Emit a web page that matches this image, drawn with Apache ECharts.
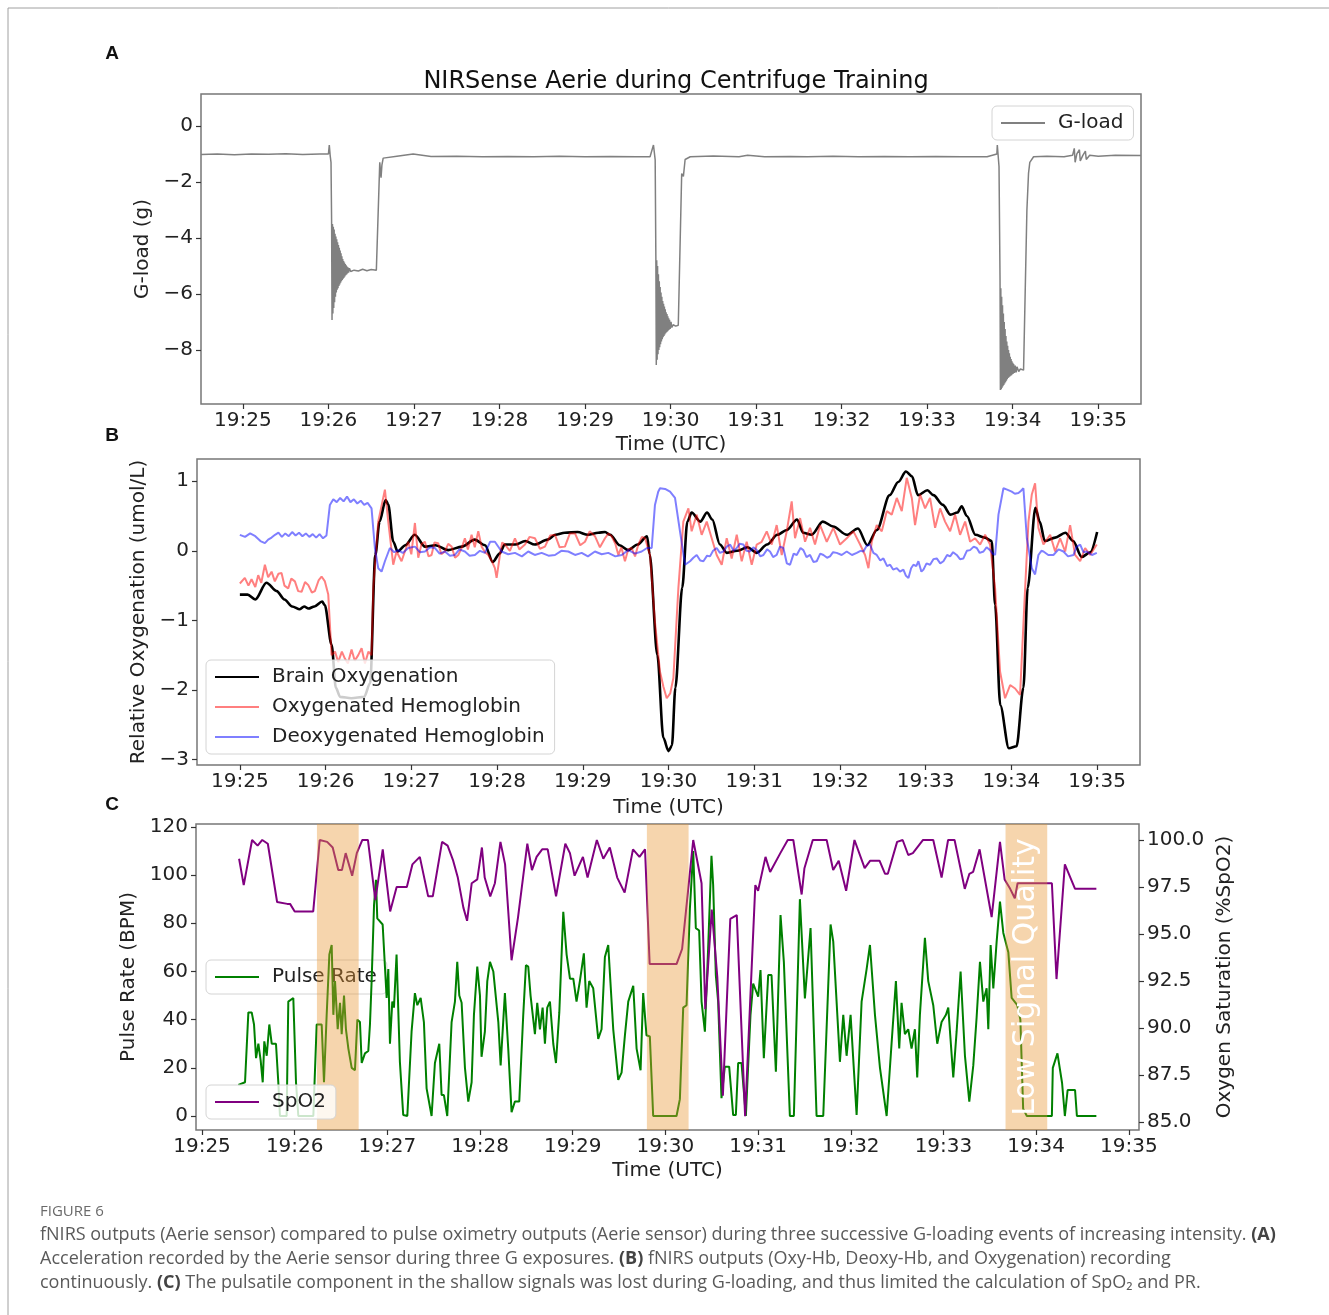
<!DOCTYPE html>
<html>
<head>
<meta charset="utf-8">
<title>NIRSense Aerie during Centrifuge Training</title>
<script src="https://cdn.jsdelivr.net/npm/echarts@6/dist/echarts.min.js"></script>
<style>
html, body { margin: 0; padding: 0; background: #fff; }
#chart { width: 1329px; height: 1315px; }
</style>
</head>
<body>
<div id="chart"></div>
<script>
// time is in minutes after 19:25 UTC
var timeTicks = [0, 1, 2, 3, 4, 5, 6, 7, 8, 9, 10];
var gTicks = [-8, -6, -4, -2, 0];
var oxyTicks = [-3, -2, -1, 0, 1];
var pulseTicks = [0, 20, 40, 60, 80, 100, 120];
var spo2Ticks = [85, 87.5, 90, 92.5, 95, 97.5, 100];

// panel A: G-load (g)
var gLoad = [
  [-0.49,-1.02],[-0.3,-1.0],[-0.1,-1.03],[0.1,-1.0],[0.3,-1.01],[0.5,-0.99],[0.7,-1.02],[0.9,-1.0],[1.0,-1.0],[1.01,-0.68],[1.02,-1.05],[1.03,-1.3],
  [1.037,-3.4],[1.042,-6.93],[1.047,-3.5],[1.052,-6.7],[1.057,-3.6],[1.062,-6.5],[1.067,-3.7],[1.072,-6.3],[1.077,-3.85],[1.082,-6.1],[1.087,-3.95],[1.092,-5.95],
  [1.097,-4.05],[1.102,-5.85],[1.107,-4.15],[1.112,-5.8],[1.117,-4.25],[1.122,-5.72],[1.127,-4.35],[1.132,-5.66],[1.137,-4.45],[1.142,-5.6],[1.147,-4.55],[1.152,-5.55],
  [1.157,-4.65],[1.162,-5.5],[1.167,-4.75],[1.172,-5.46],[1.177,-4.82],[1.182,-5.42],[1.187,-4.88],[1.192,-5.38],[1.197,-4.93],[1.202,-5.33],[1.207,-4.98],[1.212,-5.3],
  [1.217,-5.02],[1.222,-5.27],[1.227,-5.05],[1.235,-5.24],[1.245,-5.08],[1.26,-5.2],[1.3,-5.15],[1.35,-5.18],[1.4,-5.12],[1.45,-5.17],[1.5,-5.13],[1.56,-5.15],
  [1.6,-1.3],[1.615,-1.85],[1.625,-1.4],[1.64,-1.15],[1.66,-1.1],[1.8,-1.08],[1.99,-1.0],[2.0,-1.07],[2.2,-1.09],[2.5,-1.08],[2.8,-1.1],[3.1,-1.09],[3.4,-1.1],
  [3.7,-1.08],[4.0,-1.1],[4.3,-1.09],[4.6,-1.1],[4.76,-1.1],[4.8,-0.68],[4.82,-1.21],[4.828,-4.67],
  [4.833,-8.54],[4.838,-4.8],[4.843,-8.35],[4.848,-5.0],[4.853,-8.15],[4.858,-5.3],[4.863,-8.0],[4.868,-5.55],[4.873,-7.9],[4.878,-5.75],[4.883,-7.8],[4.888,-5.95],
  [4.893,-7.7],[4.898,-6.1],[4.903,-7.62],[4.908,-6.25],[4.913,-7.55],[4.918,-6.35],[4.923,-7.5],[4.928,-6.45],[4.933,-7.45],[4.938,-6.55],[4.943,-7.4],[4.948,-6.65],
  [4.953,-7.37],[4.958,-6.72],[4.963,-7.34],[4.968,-6.8],[4.973,-7.3],[4.978,-6.87],[4.983,-7.28],[4.988,-6.92],[4.995,-7.25],[5.005,-7.0],[5.015,-7.2],[5.03,-7.1],
  [5.06,-7.15],[5.09,-7.12],[5.13,-1.7],[5.15,-1.8],[5.17,-1.2],[5.23,-1.1],[5.5,-1.07],[5.8,-1.1],[5.9,-1.05],[6.1,-1.1],[6.4,-1.09],[6.6,-1.1],[6.9,-1.08],
  [7.2,-1.1],[7.5,-1.09],[7.8,-1.1],[8.1,-1.09],[8.4,-1.1],[8.7,-1.1],[8.815,-1.0],[8.82,-0.68],[8.84,-1.45],[8.852,-5.5],
  [8.856,-9.43],[8.861,-5.8],[8.866,-9.4],[8.871,-6.1],[8.876,-9.35],[8.881,-6.4],[8.886,-9.3],[8.891,-6.7],[8.896,-9.25],[8.901,-7.0],[8.906,-9.2],[8.911,-7.25],
  [8.916,-9.15],[8.921,-7.5],[8.926,-9.1],[8.931,-7.7],[8.936,-9.05],[8.941,-7.85],[8.946,-9.0],[8.951,-8.0],[8.956,-8.97],[8.961,-8.12],[8.966,-8.95],[8.971,-8.24],
  [8.976,-8.92],[8.981,-8.32],[8.986,-8.9],[8.991,-8.4],[8.996,-8.87],[9.001,-8.46],[9.006,-8.85],[9.011,-8.5],[9.02,-8.82],[9.03,-8.56],[9.04,-8.8],[9.05,-8.6],
  [9.07,-8.77],[9.09,-8.68],[9.127,-8.72],[9.166,-3.0],[9.185,-1.69],[9.2,-1.3],[9.244,-1.1],[9.4,-1.08],[9.6,-1.1],[9.7,-1.05],[9.72,-0.8],[9.73,-1.3],[9.75,-1.0],
  [9.78,-0.85],[9.79,-1.25],[9.82,-1.05],[9.85,-0.9],[9.86,-1.2],[9.9,-1.05],[10.0,-1.08],[10.2,-1.05],[10.5,-1.06]
];

// panel B: relative oxygenation (umol/L)
var brainOxy = [
  [0.0,-0.63],[0.09,-0.63],[0.18,-0.7],[0.31,-0.46],[0.43,-0.58],[0.52,-0.7],[0.61,-0.8],[0.7,-0.84],[0.75,-0.8],[0.8,-0.83],[0.87,-0.8],[0.96,-0.73],[0.99,-0.78],
  [1.07,-1.35],[1.12,-1.97],[1.17,-2.1],[1.3,-2.12],[1.45,-2.1],[1.52,-1.9],[1.58,-0.06],[1.63,0.42],[1.7,0.73],[1.73,0.67],[1.79,0.13],[1.84,-0.01],[1.93,0.08],
  [2.04,0.23],[2.16,0.06],[2.28,0.08],[2.43,0.01],[2.59,0.06],[2.74,0.16],[2.86,0.08],[2.95,-0.16],[3.03,-0.04],[3.09,0.09],[3.21,0.09],[3.33,0.14],[3.44,0.09],
  [3.59,0.16],[3.68,0.23],[3.79,0.26],[3.94,0.27],[4.06,0.23],[4.18,0.26],[4.26,0.27],[4.32,0.23],[4.43,0.08],[4.53,0.01],[4.64,0.09],[4.75,0.21],[4.78,-0.05],
  [4.87,-1.5],[4.94,-2.69],[5.0,-2.88],[5.04,-2.8],[5.08,-1.97],[5.16,-0.53],[5.22,0.42],[5.27,0.55],[5.37,0.42],[5.45,0.55],[5.51,0.45],[5.6,0.09],[5.68,-0.03],
  [5.8,0.0],[5.92,0.05],[6.03,-0.03],[6.15,0.09],[6.27,0.23],[6.38,0.3],[6.5,0.45],[6.57,0.26],[6.67,0.23],[6.8,0.42],[6.92,0.35],[7.08,0.23],[7.21,0.32],
  [7.32,0.08],[7.43,0.3],[7.58,0.8],[7.68,0.99],[7.77,1.14],[7.84,1.07],[7.91,0.8],[8.02,0.87],[8.09,0.8],[8.2,0.66],[8.29,0.52],[8.37,0.55],[8.42,0.64],
  [8.48,0.5],[8.58,0.23],[8.69,0.19],[8.77,0.14],[8.81,-0.78],[8.87,-2.22],[8.97,-2.84],[9.06,-2.81],[9.14,-1.97],[9.19,-0.53],[9.28,0.62],[9.33,0.42],[9.39,0.14],
  [9.51,0.19],[9.63,0.26],[9.72,0.14],[9.82,-0.09],[9.92,-0.02],[10.0,0.27]
];
var oxyHb = [
  [0.0,-0.47],[0.058,-0.39],[0.1,-0.5],[0.136,-0.41],[0.18,-0.52],[0.214,-0.35],[0.25,-0.46],[0.292,-0.2],[0.33,-0.38],[0.37,-0.3],[0.408,-0.44],[0.45,-0.33],
  [0.486,-0.32],[0.52,-0.5],[0.564,-0.54],[0.6,-0.4],[0.642,-0.44],[0.68,-0.58],[0.72,-0.59],[0.76,-0.45],[0.797,-0.49],[0.84,-0.6],[0.875,-0.58],[0.92,-0.42],
  [0.953,-0.37],[0.992,-0.44],[1.031,-0.63],[1.07,-1.5],[1.11,-1.45],[1.147,-1.6],[1.19,-1.45],[1.225,-1.55],[1.26,-1.62],[1.303,-1.42],[1.34,-1.58],[1.381,-1.5],
  [1.42,-1.4],[1.459,-1.62],[1.5,-1.45],[1.536,-1.5],[1.556,-0.54],[1.614,0.42],[1.692,0.88],[1.731,0.42],[1.789,-0.2],[1.828,-0.01],[1.886,-0.15],[1.964,0.13],
  [2.0,-0.05],[2.042,0.4],[2.081,-0.1],[2.12,0.1],[2.159,0.13],[2.2,-0.08],[2.236,-0.06],[2.27,0.12],[2.314,0.11],[2.35,-0.05],[2.392,-0.01],[2.43,0.1],
  [2.47,0.06],[2.51,-0.1],[2.548,-0.06],[2.59,0.05],[2.625,0.18],[2.66,0.02],[2.703,0.23],[2.74,0.05],[2.781,0.28],[2.82,0.06],[2.86,-0.02],[2.898,-0.06],
  [2.94,-0.15],[2.975,-0.25],[2.995,-0.39],[3.034,-0.06],[3.06,0.12],[3.092,0.09],[3.15,0.0],[3.209,0.18],[3.26,0.02],[3.326,0.09],[3.38,0.2],[3.442,0.18],
  [3.5,0.03],[3.559,0.06],[3.62,0.22],[3.676,0.23],[3.73,0.05],[3.792,0.06],[3.85,0.25],[3.909,0.25],[3.97,0.08],[4.026,0.13],[4.08,0.28],[4.142,0.21],
  [4.2,0.05],[4.259,0.18],[4.3,0.25],[4.337,0.21],[4.38,0.1],[4.415,-0.06],[4.45,0.05],[4.492,-0.15],[4.53,0.02],[4.57,0.04],[4.61,-0.08],[4.648,0.09],
  [4.69,0.2],[4.726,0.18],[4.784,-0.06],[4.842,-1.02],[4.901,-1.74],[4.94,-1.95],[4.979,-2.12],[5.02,-2.05],[5.057,-1.83],[5.115,-0.54],[5.173,0.42],[5.232,0.61],
  [5.27,0.28],[5.329,0.52],[5.387,0.23],[5.446,0.42],[5.504,0.18],[5.562,-0.06],[5.621,-0.2],[5.679,0.18],[5.737,-0.11],[5.796,0.23],[5.854,-0.15],[5.912,0.13],
  [5.971,-0.2],[6.029,0.09],[6.087,0.13],[6.146,0.28],[6.204,0.09],[6.262,0.37],[6.321,-0.06],[6.379,0.28],[6.437,0.71],[6.476,0.18],[6.535,0.47],[6.593,0.13],
  [6.651,0.33],[6.709,0.09],[6.768,0.37],[6.846,0.13],[6.923,0.33],[7.001,0.09],[7.079,0.18],[7.157,0.28],[7.235,0.09],[7.293,-0.06],[7.332,-0.25],[7.371,0.13],
  [7.429,0.37],[7.488,0.28],[7.546,0.57],[7.604,0.52],[7.663,0.76],[7.721,0.57],[7.779,1.05],[7.838,0.76],[7.876,0.37],[7.935,0.81],[7.993,0.61],[8.051,0.76],
  [8.11,0.33],[8.168,0.61],[8.226,0.42],[8.285,0.28],[8.343,0.52],[8.401,0.23],[8.46,0.42],[8.518,0.13],[8.576,0.18],[8.635,0.09],[8.693,0.23],[8.751,0.09],
  [8.81,-0.54],[8.868,-1.74],[8.926,-2.12],[8.985,-1.93],[9.043,-1.98],[9.101,-2.07],[9.16,-0.54],[9.199,0.42],[9.238,0.81],[9.276,0.97],[9.315,0.33],[9.374,0.09],
  [9.452,0.23],[9.51,-0.01],[9.568,0.18],[9.627,-0.01],[9.685,0.37],[9.743,-0.06],[9.802,-0.15],[9.86,0.04],[9.918,-0.06],[9.996,0.09]
];
var deoxyHb = [
  [0.0,0.23],[0.06,0.2],[0.12,0.25],[0.18,0.21],[0.24,0.14],[0.292,0.11],[0.33,0.16],[0.37,0.19],[0.41,0.23],[0.45,0.26],[0.49,0.2],[0.53,0.25],[0.57,0.21],
  [0.61,0.27],[0.65,0.22],[0.69,0.26],[0.73,0.21],[0.77,0.25],[0.81,0.2],[0.85,0.24],[0.89,0.19],[0.93,0.24],[0.97,0.18],[1.01,0.22],[1.05,0.66],[1.09,0.74],
  [1.13,0.7],[1.17,0.76],[1.21,0.71],[1.25,0.78],[1.29,0.7],[1.33,0.74],[1.37,0.68],[1.41,0.72],[1.45,0.66],[1.49,0.69],[1.536,0.61],[1.575,0.04],[1.614,-0.25],
  [1.653,-0.3],[1.692,-0.15],[1.75,0.04],[1.8,-0.02],[1.847,0.01],[1.9,-0.03],[1.964,0.04],[2.042,0.06],[2.1,-0.02],[2.159,-0.01],[2.22,0.05],[2.276,0.04],
  [2.33,-0.04],[2.392,-0.01],[2.45,-0.07],[2.509,-0.06],[2.56,0.02],[2.625,-0.01],[2.68,-0.07],[2.742,-0.06],[2.8,0.0],[2.859,-0.03],[2.92,0.13],[2.975,0.13],
  [3.053,-0.01],[3.13,-0.05],[3.209,-0.03],[3.29,-0.08],[3.364,-0.01],[3.44,-0.06],[3.52,-0.03],[3.6,-0.07],[3.676,-0.06],[3.75,0.0],[3.831,-0.01],[3.91,-0.06],
  [3.987,-0.03],[4.06,-0.08],[4.142,-0.01],[4.22,-0.05],[4.298,-0.03],[4.38,-0.08],[4.454,-0.06],[4.531,0.01],[4.61,-0.04],[4.687,-0.01],[4.75,0.04],[4.804,0.04],
  [4.842,0.66],[4.88,0.85],[4.901,0.9],[4.96,0.89],[5.018,0.85],[5.076,0.76],[5.134,0.28],[5.193,-0.2],[5.251,-0.15],[5.29,-0.1],[5.329,-0.06],[5.37,-0.14],
  [5.407,-0.15],[5.45,-0.07],[5.484,-0.08],[5.52,0.0],[5.562,0.04],[5.6,-0.03],[5.64,-0.01],[5.68,0.06],[5.718,0.09],[5.76,0.0],[5.796,0.04],[5.83,0.1],
  [5.873,0.09],[5.91,0.0],[5.951,-0.01],[5.99,0.05],[6.029,0.01],[6.07,-0.08],[6.107,-0.06],[6.15,0.02],[6.184,-0.01],[6.22,-0.09],[6.262,-0.06],[6.3,0.06],
  [6.34,0.04],[6.38,-0.18],[6.418,-0.2],[6.46,-0.04],[6.496,-0.06],[6.54,0.04],[6.573,0.01],[6.61,-0.09],[6.651,-0.06],[6.69,-0.16],[6.729,-0.15],[6.77,-0.04],
  [6.807,-0.06],[6.85,-0.1],[6.884,-0.08],[6.92,-0.02],[6.962,-0.03],[7.02,-0.06],[7.079,-0.01],[7.14,-0.06],[7.196,-0.03],[7.24,0.0],[7.274,-0.01],[7.31,0.07],
  [7.351,0.09],[7.39,-0.03],[7.429,-0.06],[7.47,-0.14],[7.507,-0.11],[7.55,-0.22],[7.585,-0.2],[7.62,-0.27],[7.663,-0.25],[7.7,-0.3],[7.74,-0.27],[7.77,-0.36],
  [7.799,-0.39],[7.83,-0.25],[7.857,-0.2],[7.89,-0.22],[7.915,-0.15],[7.95,-0.3],[7.974,-0.27],[8.01,-0.18],[8.051,-0.2],[8.09,-0.12],[8.129,-0.11],[8.17,-0.18],
  [8.207,-0.15],[8.25,-0.06],[8.285,-0.08],[8.32,-0.02],[8.362,-0.06],[8.4,-0.12],[8.44,-0.11],[8.48,0.0],[8.518,0.01],[8.56,0.06],[8.596,0.04],[8.63,-0.03],
  [8.674,-0.01],[8.71,0.05],[8.751,0.01],[8.78,-0.04],[8.81,-0.06],[8.849,0.52],[8.907,0.9],[8.95,0.88],[9.004,0.85],[9.04,0.82],[9.082,0.83],[9.11,0.86],
  [9.14,0.9],[9.18,0.18],[9.238,-0.25],[9.276,-0.34],[9.315,-0.06],[9.35,0.0],[9.374,-0.01],[9.43,-0.06],[9.49,-0.06],[9.55,0.02],[9.607,-0.01],[9.66,-0.08],
  [9.724,-0.06],[9.76,0.06],[9.802,0.09],[9.84,-0.02],[9.879,-0.01],[9.94,-0.06],[9.996,-0.03]
];

// panel C: pulse rate (BPM) and SpO2 (%)
var pulseRate = [
  [0.392,12.9],[0.464,14],[0.5,43],[0.536,43],[0.561,38],[0.583,24],[0.608,30],[0.633,23],[0.655,14],[0.672,31],[0.698,25],[0.726,38],[0.752,30],[0.798,30],
  [0.823,14],[0.841,0],[0.913,0],[0.931,47.5],[0.985,49],[1.014,14],[1.039,0],[1.201,0],[1.237,38],[1.291,38],[1.316,14],[1.345,42],[1.374,67],[1.399,71],
  [1.417,42],[1.435,56],[1.464,36],[1.489,47],[1.507,34],[1.532,50],[1.553,36],[1.579,28],[1.615,20],[1.65,19],[1.676,40],[1.704,39],[1.723,22],[1.758,26],
  [1.794,27],[1.812,38],[1.83,56],[1.856,87.5],[1.877,98],[1.891,82],[1.949,79.5],[1.992,49],[2.01,61],[2.028,30],[2.053,47.5],[2.071,45],[2.099,67],[2.135,22.5],
  [2.171,0.4],[2.215,0],[2.261,35],[2.297,51],[2.323,46],[2.359,49],[2.394,39],[2.423,11.5],[2.477,0],[2.513,22],[2.56,30],[2.585,8.7],[2.61,8.7],[2.646,0],
  [2.693,39],[2.729,47.5],[2.754,64],[2.776,50],[2.801,47],[2.837,20],[2.873,6],[2.909,14],[2.934,42],[2.97,62],[2.999,50],[3.016,24.6],[3.052,35],[3.078,56],
  [3.107,64],[3.143,60],[3.197,39],[3.222,21],[3.268,51],[3.304,28],[3.34,1.6],[3.376,6],[3.423,6],[3.466,42],[3.495,62.6],[3.52,62],[3.545,50],[3.592,34],
  [3.617,47],[3.646,36],[3.675,45],[3.7,30],[3.725,45],[3.754,47.5],[3.79,30],[3.819,22],[3.855,43],[3.898,84.8],[3.934,67],[3.97,57],[4.006,57],[4.041,47.5],
  [4.077,56],[4.12,67.5],[4.149,45],[4.178,56],[4.221,53],[4.275,32],[4.311,36],[4.347,66],[4.383,71],[4.437,36],[4.491,15],[4.527,18],[4.563,33.5],[4.599,47.5],
  [4.653,54],[4.689,28],[4.732,19],[4.76,51],[4.796,33.5],[4.832,33],[4.868,0],[5.12,0],[5.156,7],[5.192,45],[5.228,46],[5.264,86],[5.3,110],[5.328,78],
  [5.364,77],[5.39,47.5],[5.426,35],[5.461,69.6],[5.497,108],[5.515,96],[5.544,58.5],[5.569,47.5],[5.605,7.4],[5.641,20.5],[5.688,20.5],[5.731,0.4],[5.76,0.4],
  [5.785,22],[5.821,22],[5.868,0],[5.918,42],[5.947,55],[6.001,49.5],[6.026,60.6],[6.062,24],[6.109,58.5],[6.145,58.5],[6.192,18.4],[6.242,83.4],[6.278,64],
  [6.343,0],[6.386,0],[6.451,90],[6.505,48.8],[6.566,78],[6.631,0],[6.703,0],[6.782,79.5],[6.811,72.4],[6.883,22.5],[6.919,42],[6.955,25],[6.998,42],[7.063,0.4],
  [7.117,47.5],[7.171,61],[7.207,71],[7.261,42],[7.315,20],[7.387,0],[7.44,30],[7.487,56],[7.523,28],[7.548,47],[7.584,34],[7.62,36],[7.656,28],[7.692,36],
  [7.717,16],[7.746,42],[7.8,74],[7.836,56],[7.89,46],[7.933,30],[7.98,39],[8.027,42],[8.052,45],[8.106,16],[8.142,35],[8.185,60],[8.232,25],[8.279,6],
  [8.322,21],[8.358,41],[8.394,64],[8.43,47.5],[8.466,53],[8.484,36],[8.509,71],[8.538,53],[8.574,72.4],[8.61,89],[8.646,76],[8.7,68],[8.736,49],[8.797,46],
  [8.83,40],[8.86,3],[8.9,0],[9.17,0],[9.18,20],[9.23,26],[9.28,13.7],[9.31,0],[9.34,10.8],[9.42,10.8],[9.44,0],[9.65,0]
];
var spo2 = [
  [0.4,99.0],[0.45,97.6],[0.54,100],[0.6,99.7],[0.65,100],[0.71,99.8],[0.81,96.7],[0.92,96.6],[0.95,96.6],[1.0,96.2],[1.2,96.2],[1.27,100],[1.35,99.9],
  [1.41,99.6],[1.47,98.4],[1.51,98.4],[1.55,99.3],[1.62,98.1],[1.67,99.3],[1.73,100],[1.79,100],[1.87,96.8],[1.95,99.5],[2.03,96.2],[2.1,97.5],[2.21,97.5],
  [2.27,98.7],[2.35,99.1],[2.44,97.0],[2.49,97.0],[2.59,99.9],[2.65,99.7],[2.71,98.9],[2.76,98.0],[2.82,96.4],[2.86,95.7],[2.91,97.7],[2.97,97.9],[3.02,99.6],
  [3.05,98.0],[3.11,97.0],[3.16,97.7],[3.22,99.9],[3.27,98.7],[3.34,93.6],[3.41,95.9],[3.51,99.8],[3.56,98.4],[3.61,99.1],[3.67,99.5],[3.73,99.5],[3.82,97.0],
  [3.92,99.8],[3.97,99.3],[4.02,98.1],[4.11,99.1],[4.16,98.0],[4.26,100],[4.33,99.0],[4.4,99.6],[4.48,98.0],[4.56,97.2],[4.65,99.5],[4.72,99.1],[4.78,99.5],
  [4.83,93.4],[5.12,93.4],[5.18,94.2],[5.3,100],[5.39,97.7],[5.43,91.0],[5.5,96.3],[5.56,92.7],[5.62,86.4],[5.7,95.8],[5.77,96.0],[5.86,85.3],[5.97,97.6],
  [6.0,97.3],[6.08,99.1],[6.13,98.3],[6.24,99.3],[6.32,100],[6.38,100],[6.47,97.1],[6.5,98.5],[6.59,100],[6.74,100],[6.81,98.4],[6.87,98.9],[6.95,97.3],
  [7.04,100],[7.15,98.5],[7.21,98.9],[7.31,98.9],[7.37,98.2],[7.4,98.2],[7.5,99.9],[7.56,100],[7.62,99.2],[7.67,99.3],[7.78,100],[7.89,100],[7.98,98.0],
  [8.05,100],[8.12,100],[8.23,97.4],[8.28,98.2],[8.32,98.3],[8.39,99.5],[8.52,95.9],[8.61,99.9],[8.66,97.9],[8.72,97.4],[8.77,96.9],[8.8,97.7],[9.17,97.7],
  [9.22,92.6],[9.31,98.7],[9.42,97.4],[9.65,97.4]
];
// shaded spans: [start, end]
var lowSignalZones = [[1.24, 1.69], [4.8, 5.25], [8.67, 9.12]];

var FONT = 'DejaVu Sans';
var INK = '#222';

function fmtTime(v) { return '19:' + (25 + Math.round(v)); }
function fmtMinus(v) { return String(v).replace('-', '\u2212'); }

function xAxisFor(grid, min, max, gap) {
  return {
    type: 'value', gridIndex: grid, min: min, max: max,
    axisLine: { show: false, onZero: false },
    splitLine: { show: false },
    axisTick: { show: true, length: 5, customValues: timeTicks, lineStyle: { color: '#333', width: 1.2 } },
    axisLabel: { customValues: timeTicks, formatter: fmtTime, fontSize: 20, color: INK, fontFamily: FONT, margin: 7 },
    name: 'Time (UTC)', nameLocation: 'middle', nameGap: gap,
    nameTextStyle: { fontSize: 20, color: INK, fontFamily: FONT }
  };
}

function yAxisFor(grid, min, max, ticks, name, gap, pos, fmt) {
  return {
    type: 'value', gridIndex: grid, min: min, max: max, position: pos || 'left',
    axisLine: { show: false, onZero: false },
    splitLine: { show: false },
    axisTick: { show: true, length: 5, customValues: ticks, lineStyle: { color: '#333', width: 1.2 } },
    axisLabel: { customValues: ticks, formatter: fmt || fmtMinus, fontSize: 20, color: INK, fontFamily: FONT, margin: 8 },
    name: name, nameLocation: 'middle', nameGap: gap, nameRotate: 90,
    nameTextStyle: { fontSize: 20, color: INK, fontFamily: FONT }
  };
}

function legendBox(extra) {
  var base = {
    backgroundColor: 'rgba(255,255,255,0.8)', borderColor: '#d4d4d4', borderWidth: 1, borderRadius: 5,
    padding: [7, 10, 7, 8], itemWidth: 44, itemHeight: 12, itemGap: 10, selectedMode: false,
    itemStyle: { opacity: 0 },
    textStyle: { fontSize: 20, color: INK, fontFamily: FONT, padding: [0, 0, 0, 8] }
  };
  for (var k in extra) base[k] = extra[k];
  return base;
}

var zoneData = lowSignalZones.map(function (z, i) {
  var start = { xAxis: z[0] };
  if (i === lowSignalZones.length - 1) {
    start.label = {
      show: true, position: 'inside', rotate: 90, formatter: 'Low Signal Quality',
      color: '#fff', fontSize: 30, fontFamily: FONT
    };
  }
  return [start, { xAxis: z[1] }];
});

var captionRich = { b: { fontWeight: 'bold', fontSize: 18, fontFamily: 'Open Sans', fill: '#444' } };

var chart = echarts.init(document.getElementById('chart'));
chart.setOption({
  animation: false,
  backgroundColor: '#fff',
  title: {
    text: 'NIRSense Aerie during Centrifuge Training',
    left: 671, top: 65, textAlign: 'center',
    textStyle: { fontSize: 24, fontWeight: 'normal', color: '#111', fontFamily: FONT }
  },
  grid: [
    { left: 201, top: 94, width: 940, height: 310, show: true, borderColor: '#777', borderWidth: 1.5 },
    { left: 197, top: 459, width: 943, height: 306, show: true, borderColor: '#777', borderWidth: 1.5 },
    { left: 196, top: 824, width: 943, height: 306, show: true, borderColor: '#777', borderWidth: 1.5 }
  ],
  xAxis: [
    xAxisFor(0, -0.49, 10.5, 31),
    xAxisFor(1, -0.5, 10.5, 33),
    xAxisFor(2, -0.065, 10.11, 31)
  ],
  yAxis: [
    yAxisFor(0, -9.93, 1.14, gTicks, 'G-load (g)', 38),
    yAxisFor(1, -3.08, 1.32, oxyTicks, 'Relative Oxygenation (umol/L)', 44),
    yAxisFor(2, -5.8, 121.2, pulseTicks, 'Pulse Rate (BPM)', 50),
    yAxisFor(2, 84.57, 100.85, spo2Ticks, 'Oxygen Saturation (%SpO2)', 59, 'right', function (v) { return v.toFixed(1); })
  ],
  legend: [
    legendBox({ data: ['G-load'], left: 992, top: 106, z: 6 }),
    legendBox({ data: ['Brain Oxygenation', 'Oxygenated Hemoglobin', 'Deoxygenated Hemoglobin'], orient: 'vertical', left: 206, top: 660, z: 6 }),
    legendBox({ data: ['Pulse Rate'], left: 206, top: 960, z: 3 }),
    legendBox({ data: ['SpO2'], left: 206, top: 1085, z: 7 })
  ],
  graphic: [
    { type: 'polyline', shape: { points: [[8, 1315], [8, 8], [1329, 8]] }, style: { stroke: '#a0a0a0', lineWidth: 1, fill: null } },
    { type: 'text', x: 112, y: 54, style: { text: 'A', font: 'bold 19px "Liberation Sans"', fill: '#111', align: 'center', verticalAlign: 'middle' } },
    { type: 'text', x: 112, y: 436, style: { text: 'B', font: 'bold 19px "Liberation Sans"', fill: '#111', align: 'center', verticalAlign: 'middle' } },
    { type: 'text', x: 112, y: 805, style: { text: 'C', font: 'bold 19px "Liberation Sans"', fill: '#111', align: 'center', verticalAlign: 'middle' } },
    { type: 'text', x: 40, y: 1212, style: { text: 'FIGURE 6', font: '15px "Open Sans"', fill: '#6a6a6a', verticalAlign: 'middle' } },
    { type: 'text', x: 40, y: 1235, style: {
      text: 'fNIRS outputs (Aerie sensor) compared to pulse oximetry outputs (Aerie sensor) during three successive G-loading events of increasing intensity. {b|(A)}',
      font: '18px "Open Sans"', fill: '#5a5a5a', verticalAlign: 'middle', rich: captionRich } },
    { type: 'text', x: 40, y: 1259, style: {
      text: 'Acceleration recorded by the Aerie sensor during three G exposures. {b|(B)} fNIRS outputs (Oxy-Hb, Deoxy-Hb, and Oxygenation) recording',
      font: '18px "Open Sans"', fill: '#5a5a5a', verticalAlign: 'middle', rich: captionRich } },
    { type: 'text', x: 40, y: 1283, style: {
      text: 'continuously. {b|(C)} The pulsatile component in the shallow signals was lost during G-loading, and thus limited the calculation of SpO\u2082 and PR.',
      font: '18px "Open Sans"', fill: '#5a5a5a', verticalAlign: 'middle', rich: captionRich } }
  ],
  series: [
    { name: 'G-load', type: 'line', xAxisIndex: 0, yAxisIndex: 0, data: gLoad, symbol: 'none',
      lineStyle: { color: '#808080', width: 1.5 }, itemStyle: { color: '#808080' } },
    { name: 'Brain Oxygenation', type: 'line', xAxisIndex: 1, yAxisIndex: 1, data: brainOxy, symbol: 'none',
      smooth: 0.3, smoothMonotone: 'x',
      lineStyle: { color: '#000', width: 2.6 }, itemStyle: { color: '#000' } },
    { name: 'Oxygenated Hemoglobin', type: 'line', xAxisIndex: 1, yAxisIndex: 1, data: oxyHb, symbol: 'none',
      lineStyle: { color: 'rgba(255,0,0,0.5)', width: 2 }, itemStyle: { color: 'rgba(255,0,0,0.5)' } },
    { name: 'Deoxygenated Hemoglobin', type: 'line', xAxisIndex: 1, yAxisIndex: 1, data: deoxyHb, symbol: 'none',
      lineStyle: { color: 'rgba(0,0,255,0.5)', width: 2 }, itemStyle: { color: 'rgba(0,0,255,0.5)' } },
    { name: 'Pulse Rate', type: 'line', xAxisIndex: 2, yAxisIndex: 2, data: pulseRate, symbol: 'none',
      lineStyle: { color: '#008000', width: 2 }, itemStyle: { color: '#008000' } },
    { name: 'SpO2', type: 'line', xAxisIndex: 2, yAxisIndex: 3, data: spo2, symbol: 'none',
      lineStyle: { color: '#800080', width: 2 }, itemStyle: { color: '#800080' },
      markArea: { z: 5, silent: true, itemStyle: { color: 'rgba(232,150,50,0.4)' }, data: zoneData } }
  ]
});
</script>
</body>
</html>
